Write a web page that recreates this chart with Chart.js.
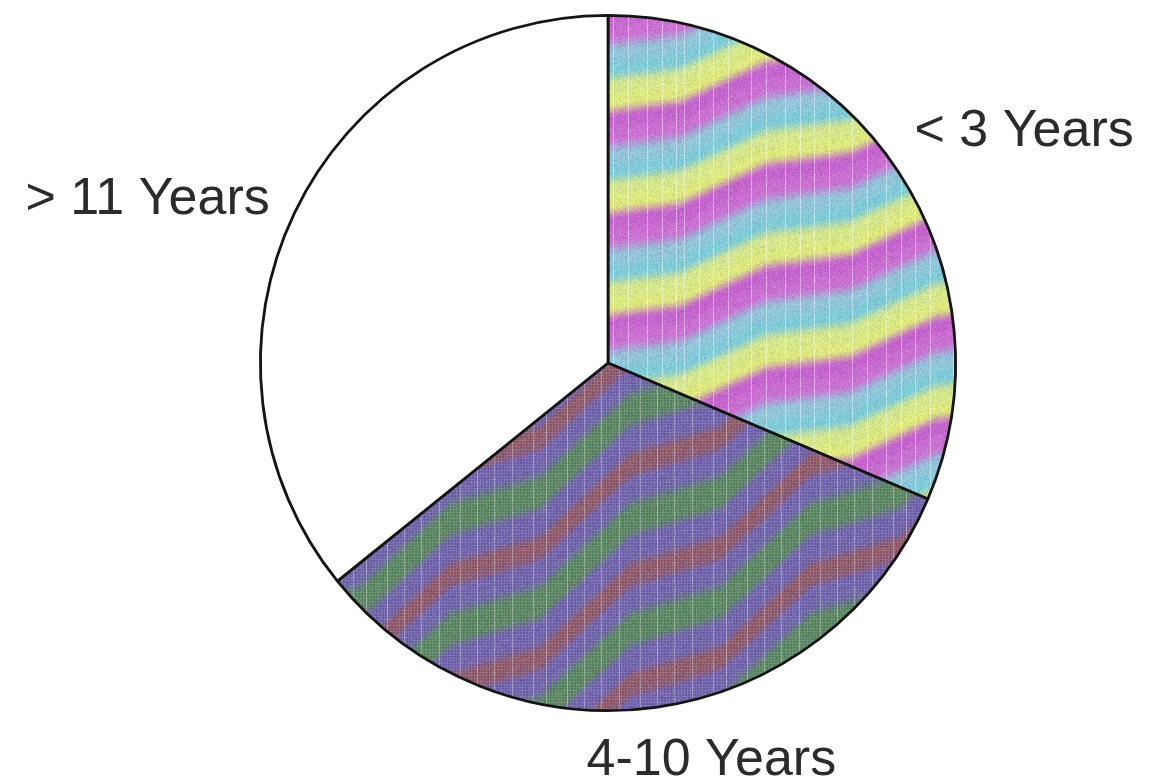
<!DOCTYPE html>
<html>
<head>
<meta charset="utf-8">
<script src="https://cdn.jsdelivr.net/npm/chart.js@4.4.1/dist/chart.umd.min.js"></script>
<style>
  html, body { margin: 0; padding: 0; background: #ffffff; }
  #wrap { width: 1149px; height: 782px; }
</style>
</head>
<body>
<div id="wrap"><canvas id="pie" width="1149" height="782"></canvas></div>
<script>
// Tenure groups and their shares (percent of respondents)
const categories = ['< 3 Years', '4-10 Years', '> 11 Years'];
const shares = [31.4, 32.8, 35.8];

// Label placement around each slice: radius factor and angle nudge (degrees)
const labelRadius = [1.375, 1.17, 1.41];
const labelNudge = [4, -6.8, -5.5];

// Cheap integer hash used for print speckle in the textures
function hash(x, y) {
  let h = (x * 374761393 + y * 668265263) | 0;
  h = (h ^ (h >>> 13)) * 1274126177 | 0;
  return ((h ^ (h >>> 16)) >>> 0) / 4294967295;
}

// Builds a tiling texture of bent colour bands rising to the right.
function bandTexture(opts) {
  const W = opts.width, H = opts.period;
  const c = document.createElement('canvas');
  c.width = W; c.height = H;
  const ctx = c.getContext('2d');
  const img = ctx.createImageData(W, H);
  const stops = opts.stops; // [pos(0..1), r, g, b]
  function colorAt(t) {
    t = ((t % 1) + 1) % 1;
    for (let i = 0; i < stops.length - 1; i++) {
      const a = stops[i], b = stops[i + 1];
      if (t >= a[0] && t <= b[0]) {
        const f = (t - a[0]) / (b[0] - a[0] || 1);
        const s = f * f * (3 - 2 * f);
        return [a[1] + (b[1] - a[1]) * s, a[2] + (b[2] - a[2]) * s, a[3] + (b[3] - a[3]) * s];
      }
    }
    return [stops[0][1], stops[0][2], stops[0][3]];
  }
  const slope = H / W;
  for (let y = 0; y < H; y++) {
    for (let x = 0; x < W; x++) {
      // zig-zag bend along each band
      const ph = (x / W * opts.waves) % 1;
      const tri = ph < 0.5 ? ph * 4 - 1 : 3 - ph * 4;
      const t = (y + slope * x + opts.amp * tri) / H;
      let [r, g, b] = colorAt(t);
      // vertical scan streaks
      let lift = opts.streaks.includes(x % opts.streakSpan) ? opts.streakLift : 0;
      // print speckle
      lift += (hash(x, y) - 0.5) * opts.speckle;
      // fine screen-print mesh
      if (opts.grid && (x % 3 === 0 || y % 3 === 0)) lift += opts.grid;
      if (lift >= 0) {
        r += (255 - r) * lift; g += (255 - g) * lift; b += (255 - b) * lift;
      } else {
        r *= 1 + lift; g *= 1 + lift; b *= 1 + lift;
      }
      const i = (y * W + x) * 4;
      img.data[i] = r; img.data[i + 1] = g; img.data[i + 2] = b; img.data[i + 3] = 255;
    }
  }
  ctx.putImageData(img, 0, 0);
  return ctx.createPattern(c, 'repeat');
}

const lightBands = bandTexture({
  width: 340, period: 102, amp: 7, waves: 2,
  stops: [
    [0.00, 200, 98, 210],
    [0.18, 206, 112, 214],
    [0.36, 148, 200, 222],
    [0.52, 126, 206, 220],
    [0.68, 218, 236, 142],
    [0.84, 226, 238, 126],
    [1.00, 200, 98, 210]
  ],
  streaks: [4, 19, 33, 48, 71, 86], streakSpan: 101, streakLift: 0.4,
  speckle: 0.22, grid: 0
});

const darkBands = bandTexture({
  width: 180, period: 110, amp: 14, waves: 1,
  stops: [
    [0.00, 106, 90, 168],
    [0.12, 104, 92, 166],
    [0.28, 80, 128, 88],
    [0.42, 82, 126, 90],
    [0.56, 104, 90, 168],
    [0.68, 104, 90, 166],
    [0.82, 138, 80, 94],
    [0.92, 132, 82, 110],
    [1.00, 106, 90, 168]
  ],
  streaks: [6, 27, 44, 61], streakSpan: 73, streakLift: 0.3,
  speckle: 0.18, grid: 0.14
});

const outsideLabels = {
  id: 'outsideLabels',
  afterDatasetsDraw(chart) {
    const ctx = chart.ctx;
    const meta = chart.getDatasetMeta(0);
    ctx.save();
    ctx.font = '52px "Liberation Sans", Arial, sans-serif';
    ctx.fillStyle = '#2b2b2b';
    ctx.textAlign = 'center';
    ctx.textBaseline = 'alphabetic';
    meta.data.forEach((arc, i) => {
      const p = arc.getProps(['x', 'y', 'startAngle', 'endAngle', 'outerRadius'], true);
      const a = (p.startAngle + p.endAngle) / 2 + labelNudge[i] * Math.PI / 180;
      const lx = p.x + Math.cos(a) * p.outerRadius * labelRadius[i];
      const ly = p.y + Math.sin(a) * p.outerRadius * labelRadius[i];
      ctx.fillText(categories[i], lx, ly + 52 * 0.358);
    });
    ctx.restore();
  }
};

new Chart(document.getElementById('pie'), {
  type: 'pie',
  data: {
    labels: categories,
    datasets: [{
      data: shares,
      backgroundColor: [lightBands, darkBands, '#ffffff'],
      borderColor: '#141414',
      borderWidth: 2.8
    }]
  },
  options: {
    responsive: false,
    animation: false,
    layout: { padding: { top: 14, bottom: 70, left: 67, right: 0 } },
    plugins: {
      legend: { display: false },
      tooltip: { enabled: false }
    }
  },
  plugins: [outsideLabels]
});
</script>
</body>
</html>
